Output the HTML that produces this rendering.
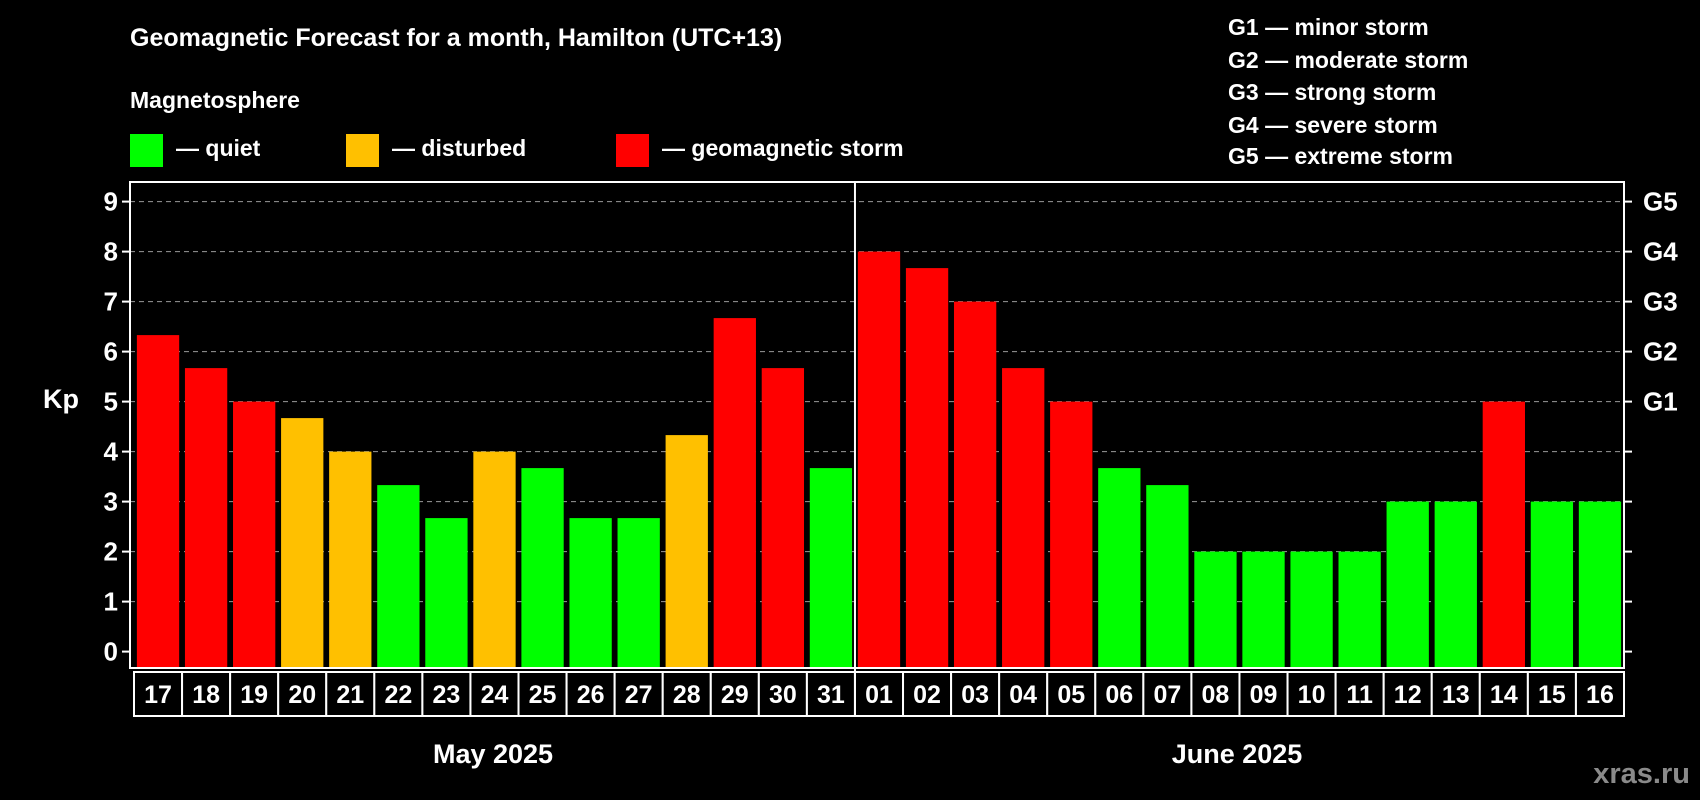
<!DOCTYPE html>
<html><head><meta charset="utf-8">
<style>
html,body{margin:0;padding:0;background:#000;}
svg{display:block;font-family:"Liberation Sans",Arial,sans-serif;font-weight:bold;}
</style></head>
<body>
<svg id="chart" width="1700" height="800" viewBox="0 0 1700 800">
<rect x="0" y="0" width="1700" height="800" fill="#000"/>
<text x="130" y="46" fill="#fff" font-size="25">Geomagnetic Forecast for a month, Hamilton (UTC+13)</text>
<text x="130" y="108" fill="#fff" font-size="23">Magnetosphere</text>
<g><rect x="130" y="134" width="33" height="33" fill="#00ff00"/><text x="176" y="156" fill="#fff" font-size="23">— quiet</text></g>
<g><rect x="346" y="134" width="33" height="33" fill="#ffc000"/><text x="392" y="156" fill="#fff" font-size="23">— disturbed</text></g>
<g><rect x="616" y="134" width="33" height="33" fill="#ff0000"/><text x="662" y="156" fill="#fff" font-size="23">— geomagnetic storm</text></g>
<g fill="#fff" font-size="23">
<text x="1228" y="35">G1 — minor storm</text>
<text x="1228" y="68">G2 — moderate storm</text>
<text x="1228" y="100">G3 — strong storm</text>
<text x="1228" y="133">G4 — severe storm</text>
<text x="1228" y="164">G5 — extreme storm</text>
</g>
<text x="43" y="408" fill="#fff" font-size="27">Kp</text>
<g id="plot"></g>
<text x="493" y="763" fill="#fff" font-size="27" text-anchor="middle">May 2025</text>
<text x="1237" y="763" fill="#fff" font-size="27" text-anchor="middle">June 2025</text>
<text x="1690" y="783" fill="#8a8a8a" font-size="29" text-anchor="end">xras.ru</text>
</svg>
<script>
const days = ["17","18","19","20","21","22","23","24","25","26","27","28","29","30","31","01","02","03","04","05","06","07","08","09","10","11","12","13","14","15","16"];
const kpValues = [6.33,5.67,5,4.67,4,3.33,2.67,4,3.67,2.67,2.67,4.33,6.67,5.67,3.67,8,7.67,7,5.67,5,3.67,3.33,2,2,2,2,3,3,5,3,3];
const yTicks = [0,1,2,3,4,5,6,7,8,9];
const gLabels = ["G1","G2","G3","G4","G5"];
const gLevels = [5,6,7,8,9];

const NS="http://www.w3.org/2000/svg";
const plot=document.getElementById('plot');
const L=130,R=1624,T=182,B=668;
const y0=651.6, unit=50;
const yScale=v=>y0-v*unit;
const pitch=(R-L-4)/days.length;
const xBand=i=>L+4+i*pitch;
const barW=pitch*0.88;
function mk(tag,attrs){const e=document.createElementNS(NS,tag);for(const k in attrs)e.setAttribute(k,attrs[k]);plot.appendChild(e);return e;}
function color(v){return v>=5?"#ff0000":(v>=4?"#ffc000":"#00ff00");}

yTicks.forEach(t=>{
  const y=yScale(t);
  if(t>0){const g=mk('line',{x1:L,x2:R,y1:y,y2:y,stroke:'#999','stroke-dasharray':'5,4','stroke-width':1});
  
  }
  const tk=mk('line',{x1:L-8,x2:L,y1:y,y2:y,stroke:'#fff','stroke-width':2});
  
  
  const rt=mk('line',{x1:R,x2:R+8,y1:y,y2:y,stroke:'#fff','stroke-width':2});
  
  
  const lb=mk('text',{x:118,y:y+9,fill:'#fff','font-size':26,'text-anchor':'end'});
  lb.textContent=t;
  
  
});
gLabels.forEach((g,i)=>{
  const t=mk('text',{x:R+19,y:yScale(gLevels[i])+9,fill:'#fff','font-size':26});
  t.textContent=g;
  
  
});
kpValues.forEach((v,i)=>{
  const x=xBand(i)+(pitch-barW)/2;
  const b=mk('rect',{x:x,y:yScale(v),width:barW,height:B-yScale(v),fill:color(v)});
  
  
});
const frame=mk('rect',{x:L,y:T,width:R-L,height:B-T,fill:'none',stroke:'#fff','stroke-width':2});


days.forEach((d,i)=>{
  const x=xBand(i);
  const c=mk('rect',{x:x,y:B+4,width:pitch,height:44,fill:'#000',stroke:'#fff','stroke-width':2});
  
  
  const t=mk('text',{x:x+pitch/2,y:B+35,fill:'#fff','font-size':25,'text-anchor':'middle'});
  t.textContent=d;
  
  
});
const mIdx=days.indexOf("01");
const dx=xBand(mIdx);
const div=mk('line',{x1:dx,x2:dx,y1:T,y2:B+48,stroke:'#fff','stroke-width':2});


</script>
</body></html>
